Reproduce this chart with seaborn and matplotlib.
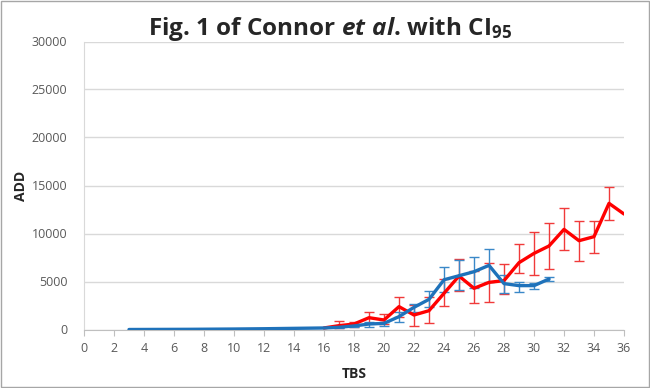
import numpy as np
import pandas as pd
import matplotlib
matplotlib.use("Agg")
import matplotlib.pyplot as plt
import seaborn as sns

# red series (x = 16..36)
red_tbs = list(range(16, 37))
red_add = [160, 400, 570, 1230, 990, 2380, 1510, 1960, 3770, 5570, 4290,
           4910, 5090, 6960, 7930, 8700, 10430, 9250, 9670, 13140, 12030]
red_lo = [np.nan, 120, 300, 640, 540, 1340, 370, 710, 2450, 3980, 2800,
          2860, 3680, 5850, 5680, 6270, 8280, 7140, 7930, 11410, np.nan]
red_hi = [np.nan, 920, 820, 1860, 1580, 3420, 2550, 3350, 5230, 7380, 6100,
          6890, 6800, 8880, 10190, 11090, 12620, 11270, 11300, 14880, np.nan]

# blue series (x = 3..31)
blue_tbs = list(range(3, 32))
blue_add = [0, 5, 10, 15, 20, 30, 40, 50, 65, 80, 100, 120, 140, 160, 230,
            370, 570, 640, 1340, 2310, 3140, 5180, 5600, 6020, 6680, 4780,
            4570, 4570, 5260]
blue_lo = [np.nan] * 14 + [150, 250, 300, 400, 820, 1860, 2310, 3940, 4120,
                           4300, 5000, 3800, 3940, 4220, 5100]
blue_hi = [np.nan] * 14 + [320, 500, 820, 820, 1860, 2660, 4010, 6480, 7250,
                           7520, 8350, 5650, 4980, 4880, 5420]

red_c = "#FF0000"
blue_c = "#1F72BA"

df = pd.concat([
    pd.DataFrame({"TBS": red_tbs, "ADD": red_add, "series": "red"}),
    pd.DataFrame({"TBS": blue_tbs, "ADD": blue_add, "series": "blue"}),
])

sns.set_style("white")
plt.rcParams["font.family"] = ["Open Sans", "DejaVu Sans"]
plt.rcParams["mathtext.fontset"] = "custom"
plt.rcParams["mathtext.rm"] = "Open Sans:bold"
plt.rcParams["mathtext.it"] = "Open Sans:italic:bold"
plt.rcParams["mathtext.bf"] = "Open Sans:bold"

fig = plt.figure(figsize=(6.5, 3.88), dpi=100)
ax = fig.add_axes([84 / 650, 1 - 329.5 / 388, 540 / 650, 288 / 388])

# error bars
for x, v, lo, hi, c in [(red_tbs, red_add, red_lo, red_hi, "#F03A3A"),
                        (blue_tbs, blue_add, blue_lo, blue_hi, "#3A88C8")]:
    x = np.array(x, float)
    v = np.array(v, float)
    lo = np.array(lo, float)
    hi = np.array(hi, float)
    m = ~np.isnan(lo)
    ax.errorbar(x[m], v[m], yerr=[v[m] - lo[m], hi[m] - v[m]], fmt="none",
                ecolor=c, elinewidth=1.0, capsize=3.5, capthick=1.0, zorder=2)

sns.lineplot(data=df, x="TBS", y="ADD", hue="series",
             palette={"red": red_c, "blue": blue_c}, hue_order=["red", "blue"],
             linewidth=2.4, legend=False, ax=ax, zorder=3)

ax.set_xlim(0, 36)
ax.set_ylim(0, 30000)
ax.set_xticks(range(0, 37, 2))
ax.set_yticks(range(0, 30001, 5000))
ax.grid(axis="y", color="#D9D9D9", linewidth=1.0)
ax.set_axisbelow(True)
for s in ["top", "right"]:
    ax.spines[s].set_visible(False)
ax.spines["left"].set_color("#D9D9D9")
ax.spines["bottom"].set_color("#BFBFBF")
ax.tick_params(axis="x", direction="out", length=4, color="#BFBFBF",
               labelsize=9, labelcolor="#595959", pad=5, bottom=True)
ax.tick_params(axis="y", length=0, labelsize=9, labelcolor="#595959", pad=12)

ax.set_xlabel("TBS", fontsize=10, fontweight="bold", labelpad=9)
ax.set_ylabel("ADD", fontsize=10, fontweight="bold", labelpad=3)

fig.text(0.508, 0.925, r"Fig. 1 of Connor $\mathit{et\ al}$. with CI$_{95}$",
         ha="center", va="center", fontsize=17.5, fontweight="bold")

fig.patches.append(plt.Rectangle((0.002, 0.003), 0.996, 0.994,
                                 transform=fig.transFigure, fill=False,
                                 edgecolor="#A6A6A6", linewidth=1.0))

fig.savefig("out.png", dpi=100)
